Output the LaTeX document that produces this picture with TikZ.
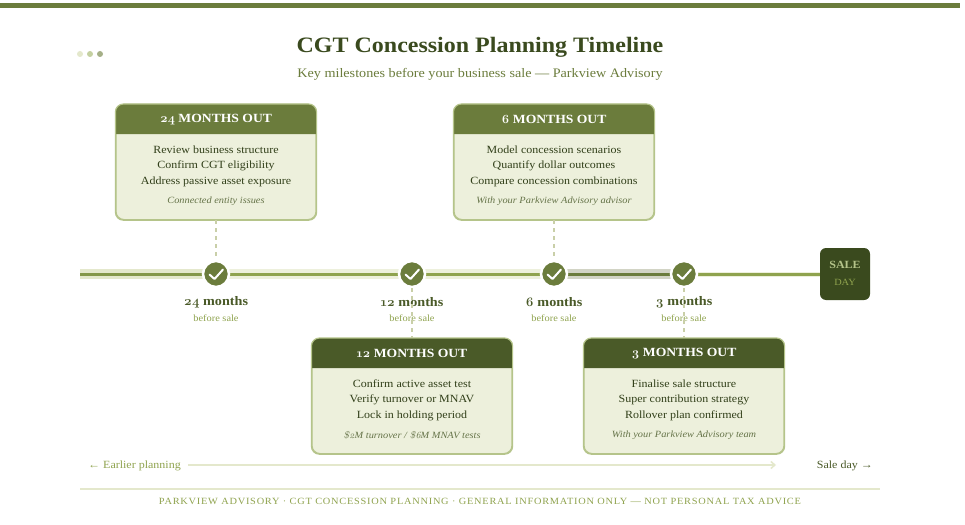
\documentclass[tikz,border=0pt]{standalone}
\usepackage{fontspec}
\setmainfont{Liberation Serif}[FakeStretch=1.09]
\newfontfamily\osf{Latin Modern Roman}[Numbers=OldStyle]
\usetikzlibrary{arrows.meta,calc,patterns}
\definecolor{olive}{HTML}{6B7C3C}
\definecolor{deep}{HTML}{4A5A28}
\definecolor{darkest}{HTML}{3A4A1E}
\definecolor{mid}{HTML}{8FA34E}
\definecolor{soft}{HTML}{B5C48A}
\definecolor{pale}{HTML}{EDF0DC}
\definecolor{paler}{HTML}{E4E8CC}
\definecolor{dashc}{HTML}{C9CFA8}
\tikzset{
 x=1pt,y=-1pt,
 cardbody/.style={draw=soft,line width=1.2pt,fill=pale,rounded corners=8pt,minimum width=200pt,minimum height=115pt,inner sep=0pt},
 cardhead/.style={font=\bfseries\fontsize{12.5}{14}\selectfont,text=white,inner sep=0pt},
 cardline/.style={font=\fontsize{11}{13}\selectfont,text=darkest!85!black,inner sep=0pt},
 cardnote/.style={font=\itshape\fontsize{9.5}{11}\selectfont,text=deep!85,inner sep=0pt},
 ms/.style={circle,fill=olive,draw=white,line width=2.5pt,minimum size=26pt,inner sep=0pt},
 tick/.style={draw=white,line width=2pt,line cap=round,line join=round},
 mslabel/.style={font=\bfseries\fontsize{13}{15}\selectfont,text=deep,inner sep=0pt},
 mssub/.style={font=\fontsize{9.5}{11}\selectfont,text=mid,inner sep=0pt},
 conn/.style={draw=dashc,line width=1.5pt,dash pattern=on 4pt off 4pt},
 band/.style={line width=10pt},
 core/.style={line width=3pt},
}
\newcommand{\card}[9]{% name,x,top,headcolor,title,l1,l2,l3,note
 \node[cardbody,anchor=north] (#1) at (#2,#3) {};
 \fill[#4] ($(#1.north west)+(0,30)$) -- ($(#1.north west)+(0,8)$) arc[start angle=180,end angle=90,radius=8pt] -- ($(#1.north east)+(-8,0)$) arc[start angle=90,end angle=0,radius=8pt] -- ($(#1.north east)+(0,30)$) -- cycle;
 \draw[soft,line width=1.2pt,rounded corners=8pt] (#1.south west) rectangle (#1.north east);
 \node[cardhead] (#1h) at (#2,#3+15.5) {#5};
 \node[cardline] (#1a) at (#2,#3+45.5) {#6};
 \node[cardline] (#1b) at (#2,#3+61.5) {#7};
 \node[cardline] (#1c) at (#2,#3+77.5) {#8};
 \node[cardnote] (#1n) at (#2,#3+97) {#9};
}
\newcommand{\mile}[3]{% name,x,label
 \node[ms] (#1) at (#2,274) {};
 \draw[tick] (#2-6.5,274.5) -- (#2-1.5,279) -- (#2+7,269.5);
 \node[mslabel] (#1l) at (#2,302) {#3};
 \node[mssub] (#1s) at (#2,318) {before sale};
}
\newcommand{\os}[1]{{\osf #1}}
\begin{document}
\begin{tikzpicture}
\useasboundingbox (0,0) rectangle (965,524);
\fill[white] (0,0) rectangle (965,524);
\fill[olive] (0,3) rectangle (960,8);
\foreach \n/\cx/\c in {a/80/paler,b/90/soft!80,c/100/soft!70!gray}{\node[circle,fill=\c,inner sep=0pt,minimum size=6pt] (dot\n) at (\cx,54) {};}
\node[font=\bfseries\fontsize{22}{26}\selectfont,text=darkest,inner sep=0pt] (title) at (480,47) {CGT Concession Planning Timeline};
\node[font=\fontsize{13}{15}\selectfont,text=olive,inner sep=0pt] (sub) at (480,74) {Key milestones before your business sale — Parkview Advisory};
% timeline
\coordinate (t0) at (80,274);
\node[draw=none,fill=darkest,rounded corners=6pt,minimum width=50pt,minimum height=52pt,inner sep=0pt] (sale) at (845,274) {};
\draw[band,paler] (t0) -- (216,274);
\draw[core,mid!70!olive] (t0) -- (216,274);
\draw[band,pale] (216,274) -- (412,274);
\draw[core,mid] (216,274) -- (412,274);
\draw[band,pale] (412,274) -- (554,274);
\draw[core,mid] (412,274) -- (554,274);
\draw[band,gray!25!pale] (554,274) -- (684,274);
\draw[core,olive] (554,274) -- (684,274);
\draw[line width=5pt,pale] (684,274) -- (sale.west);
\draw[core,mid] (684,274) -- (sale.west);
\card{c24}{216}{104}{olive}{\os{24} MONTHS OUT}{Review business structure}{Confirm CGT eligibility}{Address passive asset exposure}{Connected entity issues}
\card{c6}{554}{104}{olive}{\os{6} MONTHS OUT}{Model concession scenarios}{Quantify dollar outcomes}{Compare concession combinations}{With your Parkview Advisory advisor}
\card{c12}{412}{338}{deep}{\os{12} MONTHS OUT}{Confirm active asset test}{Verify turnover or MNAV}{Lock in holding period}{\os{\$2}M turnover / \os{\$6}M MNAV tests}
\card{c3}{684}{338}{deep}{\os{3} MONTHS OUT}{Finalise sale structure}{Super contribution strategy}{Rollover plan confirmed}{With your Parkview Advisory team}
\mile{m24}{216}{\os{24} months}
\mile{m12}{412}{\os{12} months}
\mile{m6}{554}{\os{6} months}
\mile{m3}{684}{\os{3} months}
\draw[conn] (c24.south) -- (m24.north);
\draw[conn] (c6.south) -- (m6.north);
\draw[conn] (m12.south) -- (c12.north);
\draw[conn] (m3.south) -- (c3.north);
\node[font=\bfseries\fontsize{11}{13}\selectfont,text=soft,inner sep=0pt] (saleA) at (845,265) {SALE};
\node[font=\fontsize{9.5}{11}\selectfont,text=mid,inner sep=0pt] (saleB) at (845,282) {DAY};
% bottom
\node[font=\fontsize{11}{13}\selectfont,text=mid,inner sep=0pt,anchor=west] (early) at (88,466) {← Earlier planning};
\node[font=\fontsize{11}{13}\selectfont,text=deep,inner sep=0pt,anchor=east] (late) at (873,466) {Sale day →};
\coordinate (ar0) at (188,465);
\coordinate (ar1) at (776,465);
\draw[paler,line width=1.5pt,-{Straight Barb[length=4pt,width=7pt]}] (ar0) -- (ar1);
\coordinate (f0) at (80,489);\coordinate (f1) at (880,489);
\draw[paler,line width=1.5pt] (f0) -- (f1);
\node[font=\fontsize{9.5}{11}\selectfont,text=mid,inner sep=0pt] (foot) at (480,501) {\addfontfeature{LetterSpace=8}PARKVIEW ADVISORY · CGT CONCESSION PLANNING · GENERAL INFORMATION ONLY — NOT PERSONAL TAX ADVICE};
\end{tikzpicture}
\end{document}
